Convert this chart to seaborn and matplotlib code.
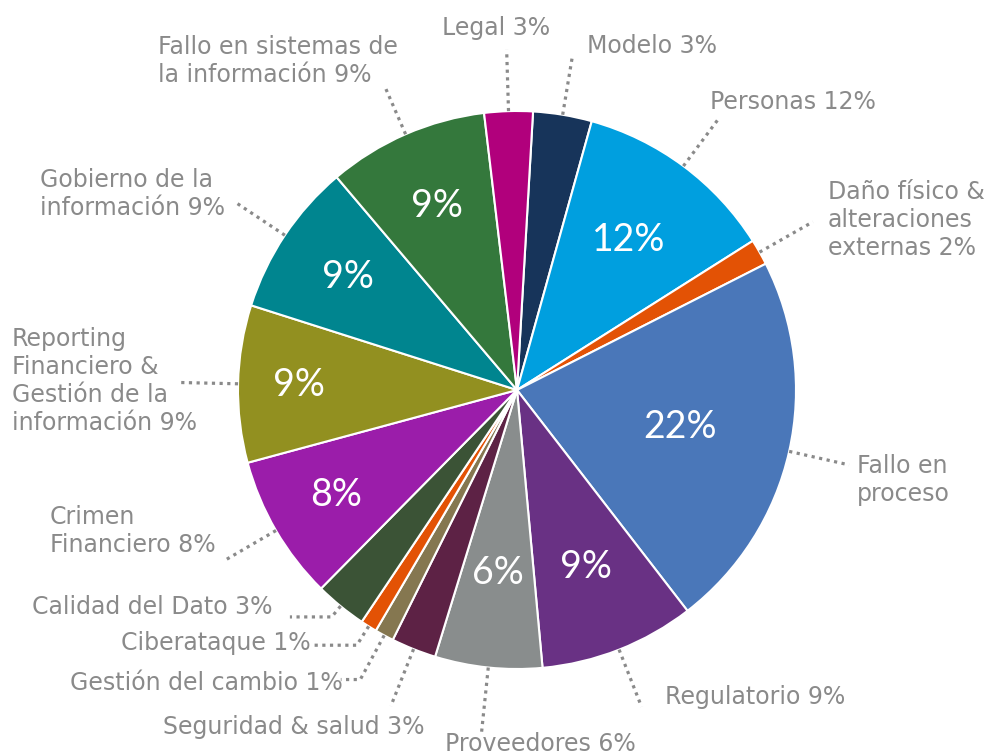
import numpy as np
import matplotlib.pyplot as plt
import seaborn as sns

sns.set_theme(style="white")
plt.rcParams['font.family'] = ['DejaVu Sans']

# datos (sentido horario empezando arriba)
categorias = ["Modelo", "Personas", "Daño físico &\nalteraciones\nexternas", "Fallo en\nproceso",
              "Regulatorio", "Proveedores", "Seguridad & salud", "Gestión del cambio", "Ciberataque",
              "Calidad del Dato", "Crimen\nFinanciero", "Reporting\nFinanciero &\nGestión de la\ninformación",
              "Gobierno de la\ninformación", "Fallo en sistemas de\nla información", "Legal"]
porcentajes = [3.4, 11.7, 1.5, 22.0, 9.0, 6.2, 2.6, 1.1, 0.95, 3.0, 8.4, 9.1, 8.9, 9.3, 2.8]
etiquetas_pct = ["3%", "12%", "2%", "22%", "9%", "6%", "3%", "1%", "1%", "3%", "8%", "9%", "9%", "9%", "3%"]
pct_fuera = [True, True, True, False, True, True, True, True, True, True, True, True, True, True, True]
pct_dentro = [False, True, False, True, True, True, False, False, False, False, True, True, True, True, False]

colores = ["#17345a", "#009fdf", "#e35205", "#4a77b9", "#693184", "#898d8d", "#5d2245", "#857750",
           "#e35205", "#3b5336", "#9b1daa", "#929020", "#00858f", "#34783c", "#b1007c"]

# posicion de los textos exteriores (coordenadas de datos, radio 1 = pastel)
pos_texto = [(0.251, 1.233, "left"), (0.692, 1.032, "left"), (1.115, 0.609, "left"), (1.219, -0.323, "left"),
             (0.530, -1.100, "left"), (0.082, -1.269, "center"), (-0.330, -1.208, "right"),
             (-0.624, -1.050, "right"), (-0.738, -0.907, "right"), (-0.875, -0.778, "right"),
             (-1.674, -0.505, "left"), (-1.810, 0.032, "left"), (-1.710, 0.703, "left"),
             (-1.287, 1.179, "left"), (-0.075, 1.297, "center")]
radio_guia = [1.21, 1.21, 1.22, 1.22, 1.22, 1.24, 1.22, 1.18, 1.08, 1.05, 1.21, 1.21, 1.21, 1.18, 1.22]
cola_guia = [0, 0, 0, 0, 0, 0, 0, -0.07, -0.16, -0.15, 0, 0, 0, 0, 0]
radio_dentro = [0.7, 0.67, 0.7, 0.6, 0.68, 0.66, 0.7, 0.7, 0.7, 0.7, 0.75, 0.78, 0.73, 0.72, 0.7]

gris = "#8a8a8a"

fig = plt.figure(figsize=(9.85, 7.56), dpi=100)
ax = fig.add_axes([0, 0, 1, 1])

wedges, _ = ax.pie(porcentajes, colors=colores, startangle=86.7, counterclock=False,
                   wedgeprops=dict(edgecolor="white", linewidth=1.5))

for i, w in enumerate(wedges):
    ang = np.deg2rad((w.theta1 + w.theta2) / 2)
    c, s = np.cos(ang), np.sin(ang)
    # guia punteada
    x0, y0 = 1.0 * c, 1.0 * s
    x1, y1 = radio_guia[i] * c, radio_guia[i] * s
    xs, ys = [x0, x1], [y0, y1]
    if cola_guia[i] != 0:
        xs.append(x1 + cola_guia[i])
        ys.append(y1)
    ax.plot(xs, ys, color=gris, lw=2.3, linestyle=(0, (1.0, 1.4)), solid_capstyle="butt")
    # texto exterior
    txt = categorias[i] + (" " + etiquetas_pct[i] if pct_fuera[i] else "")
    tx, ty, ha = pos_texto[i]
    ax.text(tx, ty, txt, ha=ha, va="center", fontsize=17, color=gris, linespacing=1.2)
    # texto interior
    if pct_dentro[i]:
        r = radio_dentro[i]
        ax.text(r * c, r * s, etiquetas_pct[i], ha="center", va="center", fontsize=27,
                color="white", fontweight="normal", family=["Lato", "DejaVu Sans"])

ax.set_xlim(-517 / 279, (985 - 517) / 279)
ax.set_ylim(-(756 - 390) / 279, 390 / 279)
ax.set_aspect("auto")
ax.axis("off")

fig.savefig("out.png", dpi=100, facecolor="white")
